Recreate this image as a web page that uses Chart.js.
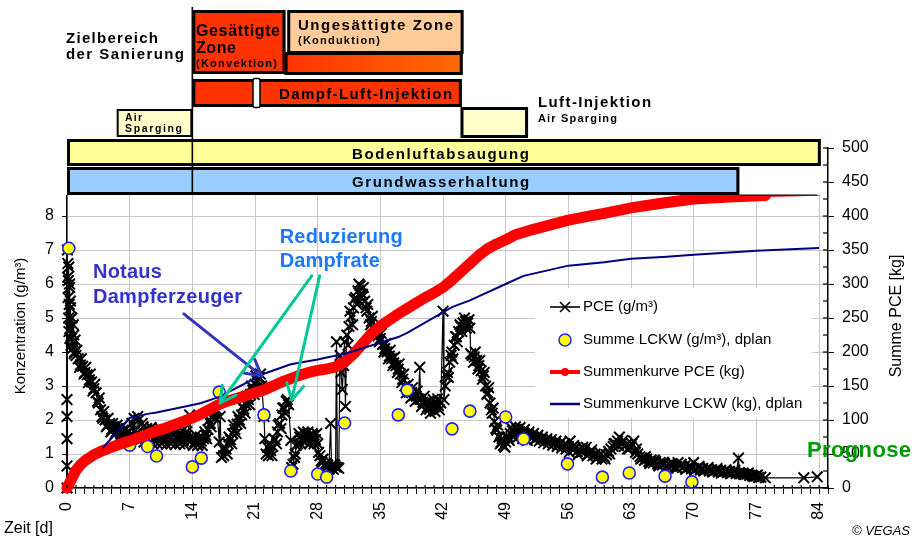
<!DOCTYPE html>
<html><head><meta charset="utf-8">
<script src="https://cdn.jsdelivr.net/npm/chart.js@4.4.0/dist/chart.umd.min.js"></script>
<style>html,body{margin:0;padding:0;background:#fff;}#wrap{width:912px;height:539px;position:relative;}</style>
</head><body><div id="wrap"><canvas id="c" width="912" height="539"></canvas></div>
<script>
// ---- DATA ----
// PCE concentration [day, g/m3]
const pceMeasurements = [
 [0,0],[0,0.65],[0,1.45],[0,2.1],[0,2.6],[0.05,7.0],[0.08,6.2],[0.1,6.6],[0.12,5.6],[0.15,6.1],[0.18,5.0],[0.2,6.5],[0.22,4.6],[0.25,5.4],[0.28,6.0],[0.3,5.9],[0.32,4.4],[0.35,4.7],[0.38,5.5],[0.4,5.3],[0.45,4.2],[0.5,4.4],[0.55,5.0],[0.6,4.1],[0.65,4.3],[0.7,4.8],[0.75,4.5],[0.8,3.95],[0.85,4.0],[0.9,4.35],[1,3.9],
 [1.1,4.05],[1.25,3.8],[1.4,3.55],[1.5,3.62],[1.6,3.8],[1.75,3.58],[1.9,3.35],[2,3.4],[2.1,3.55],[2.25,3.33],[2.4,3.1],[2.5,3.18],[2.6,3.35],[2.75,3.12],[2.9,2.85],[3,2.92],[3.1,3.05],[3.25,2.8],[3.4,2.55],[3.5,2.5],[3.6,2.65],[3.75,2.3],[3.9,2.1],[4,2.05],[4.1,2.25],[4.25,2.0],[4.4,1.8],[4.5,1.85],[4.6,2.05],[4.75,1.9],[4.9,1.65],[5,1.72],[5.1,1.9],[5.25,1.8],[5.4,1.6],[5.5,1.65],[5.6,1.85],[5.75,1.75],[5.9,1.5],[6,1.6],[6.1,1.8],[6.25,1.7],[6.4,1.45],[6.5,1.55],[6.6,1.75],[6.75,1.65],[6.9,1.4],[7,1.5],
 [7.25,1.9],[7.4,1.45],[7.5,2.05],[7.6,1.7],[7.75,1.6],[7.9,2.1],[8,2.0],[8.1,1.4],[8.25,1.5],[8.4,1.9],[8.5,1.8],[8.6,1.35],[8.75,1.45],[8.9,1.75],[9,1.6],[9.1,1.3],[9.25,1.5],[9.4,1.78],[9.5,1.68],[9.6,1.3],[9.75,1.42],[9.9,1.72],[10,1.58],[10.1,1.3],[10.25,1.45],[10.4,1.75],[10.5,1.62],[10.6,1.3],[10.75,1.5],[10.9,1.7],[11,1.43],[11.1,1.28],[11.25,1.58],[11.4,1.72],[11.5,1.5],[11.6,1.3],[11.75,1.4],[11.9,1.7],[12,1.56],[12.1,1.28],[12.25,1.48],[12.4,1.7],[12.5,1.42],[12.6,1.3],[12.75,1.55],[12.9,1.68],[13,1.4],[13.1,1.28],[13.25,1.52],[13.4,1.66],[13.5,1.45],[13.7,2.15],[13.85,1.4],[14,1.45],
 [14.1,1.25],[14.25,1.35],[14.4,1.55],[14.5,1.42],[14.6,1.25],[14.75,1.3],[14.9,1.5],[15,1.38],[15.1,1.25],[15.25,1.45],[15.4,1.65],[15.5,1.55],[15.6,1.45],[15.75,1.72],[15.9,2.0],[16,1.9],[16.1,1.8],[16.25,2.1],[16.4,2.3],[16.5,2.25],[16.6,2.05],[16.75,2.3],[17,1.35],[17.1,2.1],[17.25,0.9],
 [17.4,1.15],[17.5,0.95],[17.6,1.2],[17.75,1.15],[17.9,1.0],[18,1.3],[18.1,1.5],[18.25,1.42],[18.4,1.3],[18.5,1.6],[18.6,1.85],[18.75,1.72],[18.9,1.6],[19,1.88],[19.1,2.1],[19.25,2.0],[19.4,1.9],[19.5,2.15],[19.6,2.4],[19.75,2.32],[19.9,2.2],[20,2.45],[20.1,2.7],[20.25,2.6],[20.4,2.45],[20.5,2.75],[20.6,3.0],[20.75,2.88],[20.9,2.75],[21,3.05],[21.1,3.3],[21.25,3.15],[21.4,3.0],[21.5,3.25],[21.6,3.35],[21.75,3.0],[22,2.1],[22.1,1.45],[22.25,1.0],
 [22.4,1.2],[22.5,0.95],[22.6,1.25],[22.75,1.1],[22.9,0.95],[23,1.22],[23.1,1.45],[23.25,1.42],[23.4,1.3],[23.5,1.65],[23.6,1.85],[23.75,1.9],[23.9,1.75],[24,2.15],[24.1,2.35],[24.25,2.35],[24.4,2.2],[24.5,2.55],[24.6,2.6],[24.75,2.45],[25,1.4],[25.1,0.6],[25.25,0.7],
 [25.4,0.9],[25.5,1.0],[25.6,1.25],[25.75,1.3],[25.9,1.6],[26,1.5],[26.1,1.3],[26.25,1.4],[26.4,1.65],[26.5,1.62],[26.6,1.35],[26.75,1.45],[26.9,1.65],[27,1.52],[27.1,1.3],[27.25,1.35],[27.4,1.6],[27.5,1.55],[27.6,1.3],[27.75,1.42],[27.9,1.6],[28,1.3],[28.1,1.05],[28.25,0.95],[28.4,0.8],[28.5,0.75],[28.6,0.85],[28.75,0.65],[28.9,0.72],[29,0.6],[29.1,0.68],[29.25,0.55],[29.45,1.9],[29.55,0.6],[29.65,0.7],[29.75,0.55],[29.9,0.68],[30,0.62],[30.1,4.3],[30.2,0.6],[30.35,0.58],
 [30.5,3.9],[30.6,3.4],[30.75,2.9],[30.9,3.6],[31,4.3],[31.1,2.4],[31.25,4.5],[31.4,4.2],[31.5,4.75],[31.6,5.2],[31.75,5.05],[31.9,4.8],[32,5.3],[32.1,5.55],[32.25,5.6],[32.4,5.4],[32.5,5.8],[32.6,6.0],[32.75,5.95],[32.9,5.6],[33,5.7],[33.1,5.9],[33.25,5.5],[33.4,5.3],[33.5,5.2],[33.6,5.4],[33.75,5.0],[33.9,4.8],[34,4.9],[34.1,5.05],[34.25,4.72],[34.4,4.5],[34.5,4.6],[34.6,4.75],[34.75,4.48],[34.9,4.3],[35,4.4],[35.1,4.55],[35.25,4.22],[35.4,4.0],[35.5,4.1],[35.6,4.25],[35.75,4.0],[35.9,3.8],[36,3.88],[36.1,4.05],[36.25,3.8],[36.4,3.6],[36.5,3.68],[36.6,3.85],[36.75,3.6],[36.9,3.4],[37,3.5],[37.1,3.65],[37.25,3.35],[37.4,3.1],[37.5,3.2],[37.6,3.35],[37.75,3.0],[37.9,2.8],[38,2.9],[38.1,3.05],[38.25,2.82],[38.4,2.65],[38.5,2.8],[38.6,2.95],[38.75,2.72],[38.9,2.55],[39,2.7],[39.1,2.85],[39.25,2.62],[39.4,3.55],[39.5,2.6],[39.6,2.4],[39.75,2.52],[39.9,2.7],[40,2.5],[40.1,2.3],[40.25,2.38],[40.4,2.55],[40.5,2.32],[40.6,2.2],[40.75,2.45],[40.9,2.6],[41,2.38],[41.1,2.25],[41.25,2.5],[41.4,2.62],[41.5,2.42],[41.6,2.3],[41.75,2.5],[42,5.2],[42.1,2.6],
 [42.25,3.0],[42.4,3.3],[42.5,3.4],[42.6,3.25],[42.75,3.7],[42.9,3.9],[43,4.0],[43.1,3.8],[43.25,4.2],[43.4,4.45],[43.5,4.45],[43.6,4.3],[43.75,4.6],[43.9,4.8],[44,4.75],[44.1,4.6],[44.25,4.85],[44.4,5.0],[44.5,4.9],[44.6,4.7],[44.75,4.85],[44.9,4.95],[45,4.7],[45.1,3.95],[45.25,3.9],[45.4,3.7],[45.5,3.85],[45.6,4.0],[45.75,3.75],[45.9,3.5],[46,3.6],[46.1,3.75],[46.25,3.45],[46.4,3.2],[46.5,3.3],[46.6,3.4],[46.75,3.0],[46.9,2.75],[47,2.8],[47.1,2.95],[47.25,2.5],[47.4,2.3],[47.5,2.2],[47.6,2.35],[47.75,1.95],[47.9,1.75],[48,1.7],[48.1,1.85],[48.25,1.5],[48.4,1.3],[48.5,1.35],[48.6,1.45],[48.75,1.25],[48.9,1.2],[49,1.35],[49.1,1.5],[49.25,1.5],[49.4,1.4],[49.5,1.6],[49.6,1.78],[49.75,1.68],[49.9,1.5],[50,1.6],[50.1,1.8],[50.25,1.72],[50.4,1.5],[50.5,1.65],[50.6,1.78],[50.75,1.6],[50.9,1.45],[51,1.62],[51.1,1.72],[51.25,1.55],[51.4,1.4],[51.5,1.58],[51.6,1.65],[51.75,1.5],
 [52,1.52],[52.1,1.6],[52.25,1.42],[52.5,1.48],[52.6,1.55],[52.75,1.38],[53,1.44],[53.1,1.5],[53.25,1.33],[53.5,1.4],[53.6,1.45],[53.75,1.3],[54,1.36],[54.1,1.42],[54.25,1.26],[54.5,1.33],[54.6,1.38],[54.75,1.22],[55,1.28],[55.1,1.33],[55.25,1.18],[55.5,1.24],[55.6,1.3],[55.75,1.15],[56,1.22],[56.1,1.05],[56.2,1.38],[56.5,1.12],[56.6,1.25],[56.75,1.18],[57,1.08],[57.1,0.98],[57.25,1.15],[57.5,1.05],[57.6,1.2],[57.75,1.12],[58,1.2],[58.1,0.95],[58.25,1.0],[58.5,1.05],[58.6,1.12],[58.75,0.95],[59,1.0],[59.1,0.85],[59.25,0.9],[59.5,0.95],[59.6,1.02],[59.75,0.85],[60,0.92],[60.1,0.85],[60.25,0.98],[60.5,1.08],[60.6,1.0],[60.75,1.15],[61,1.22],[61.1,1.3],[61.25,1.3],[61.5,1.38],[61.6,1.25],[61.7,1.5],[62,1.32],[62.1,1.4],[62.25,1.22],[62.5,1.28],[62.6,1.15],[62.75,1.15],[63,1.22],[63.1,1.3],[63.3,1.38],[63.5,1.05],[63.6,1.15],[63.75,1.0],[64,0.92],[64.1,0.85],[64.25,0.88],[64.5,0.82],[64.6,0.92],[64.75,0.85],[65,0.78],[65.1,0.72],[65.25,0.82],[65.5,0.74],[65.6,0.82],[65.75,0.78],[66,0.7],[66.1,0.65],[66.25,0.75],[66.5,0.68],[66.6,0.76],[66.75,0.72],[67,0.66],[67.1,0.62],[67.25,0.7],[67.5,0.64],[67.6,0.72],[67.75,0.68],[68,0.62],[68.1,0.58],[68.25,0.75],[68.5,0.64],[68.6,0.7],[68.75,0.6],[69,0.65],[69.1,0.55],[69.25,0.58],[69.5,0.62],[69.6,0.66],[69.75,0.56],[70,0.75],[70.1,0.52],[70.25,0.56],[70.5,0.6],[70.6,0.64],[70.75,0.53],[71,0.58],[71.1,0.5],[71.25,0.52],[71.5,0.56],[71.6,0.6],[71.75,0.5],[72,0.54],[72.1,0.47],[72.25,0.49],[72.5,0.53],[72.6,0.57],[72.75,0.47],[73,0.52],[73.1,0.44],[73.25,0.46],[73.5,0.5],[73.6,0.54],[73.75,0.45],[74,0.49],[74.1,0.42],[74.25,0.44],[74.5,0.48],[74.6,0.52],[74.75,0.43],[75,0.88],[75.1,0.45],[75.25,0.42],[75.5,0.44],[75.6,0.4],[75.75,0.4],[76,0.41],[76.1,0.44],[76.25,0.37],[76.5,0.38],[76.6,0.35],[76.75,0.34],[77,0.35],[77.1,0.38],[77.25,0.31],[77.5,0.32],[78,0.3],[82.3,0.3],[83.8,0.33]
];
// Summe LCKW samples (dplan)
const lckwDays = [0.2, 7, 9, 10, 14, 15, 17, 22, 25, 28, 29, 31, 37, 38, 43, 45, 49, 51, 55.9, 59.8, 62.8, 66.8, 69.8];
const lckwConc = [7.05, 1.26, 1.22, 0.94, 0.62, 0.88, 2.82, 2.15, 0.5, 0.41, 0.32, 1.91, 2.15, 2.88, 1.74, 2.26, 2.09, 1.44, 0.71, 0.32, 0.44, 0.35, 0.18];
// Summenkurve PCE [day, kg]
const sumPceKg = [[0,0],[0.5,13],[1,26],[1.5,34],[2,40],[3,49],[4,55],[5,60],[6,65],[7,69],[8,74],[9,79],[10,84],[11,88],[12,93],[13,98],[14,103],[15,109],[16,116],[17,123],[18,128],[19,132],[20,136],[21,140],[22,144],[23,150],[24,156],[25,161],[26,166],[27,170],[28,173],[29,175],[30,178],[31,185],[32,197],[33,212],[34,227],[35,238],[36,247],[37,256],[38,264],[39,272],[40,280],[41,287],[42,295],[43,306],[44,318],[45,330],[46,342],[47,352],[48,359],[49,365],[50,372],[52,380],[54,387],[56,394],[58,399],[60,404],[63,412],[66,418],[70,425],[74,428],[78,430],[84,432]];
// Summenkurve LCKW (dplan) [day, kg] - visible from day 4 on
const sumLckwKg = [[4,59],[7,103],[9,109],[10,111],[14,122],[15,125],[17,134],[22,168],[25,182],[28,189],[29,192],[31,197],[37,222],[38,228],[43,266],[45,276],[49,300],[51,312],[56,327],[60,332],[63,337],[67,340],[70,343],[77,349],[84,353]];
const xTickStep = 7;
const leftTickMax = 8;
const rightTickStep = 50;

// ---- DRAWING ----
const FONT = '"Liberation Sans", Arial, Helvetica, sans-serif';
Chart.defaults.font.family = FONT;
Chart.defaults.color = '#000';

function txt(ctx, text, x, y, size, width, weight, style) {
  ctx.font = `${style||'normal'} ${weight||'bold'} ${size}px ${FONT}`;
  const hasLS = ('letterSpacing' in ctx);
  if (hasLS) ctx.letterSpacing = '0px';
  const w = ctx.measureText(text).width;
  if (width && hasLS) {
    const ls = (width - w) / Math.max(1, text.length - 1);
    ctx.letterSpacing = ls.toFixed(2) + 'px';
    ctx.fillText(text, x, y);
    ctx.letterSpacing = '0px';
  } else if (width) {
    ctx.save(); ctx.translate(x, y); ctx.scale(width / w, 1); ctx.fillText(text, 0, 0); ctx.restore();
  } else ctx.fillText(text, x, y);
}
function box(ctx, x0, y0, x1, y1, fill, lw) {
  ctx.fillStyle = fill; ctx.fillRect(x0, y0, x1 - x0, y1 - y0);
  if (lw) { ctx.lineWidth = lw; ctx.strokeStyle = '#000'; ctx.strokeRect(x0 + lw/2, y0 + lw/2, x1 - x0 - lw, y1 - y0 - lw); }
}
function arrow(ctx, x0, y0, x1, y1, color, lw, head) {
  ctx.save();
  ctx.strokeStyle = color; ctx.lineWidth = lw; ctx.lineCap = 'round'; ctx.lineJoin = 'round';
  ctx.beginPath(); ctx.moveTo(x0, y0); ctx.lineTo(x1, y1); ctx.stroke();
  const a = Math.atan2(y1 - y0, x1 - x0);
  ctx.beginPath();
  ctx.moveTo(x1 - head * Math.cos(a - 0.5), y1 - head * Math.sin(a - 0.5));
  ctx.lineTo(x1, y1);
  ctx.lineTo(x1 - head * Math.cos(a + 0.5), y1 - head * Math.sin(a + 0.5));
  ctx.stroke();
  ctx.restore();
}

const decor = {
  id: 'decor',
  afterDraw(chart) {
    const ctx = chart.ctx;
    const xs = chart.scales.x, ys = chart.scales.y, yr = chart.scales.y1;
    const X = d => xs.getPixelForValue(d);
    const Y = v => ys.getPixelForValue(v);
    ctx.save();
    ctx.textAlign = 'left'; ctx.textBaseline = 'alphabetic';
    ctx.fillStyle = '#fff'; ctx.fillRect(0, 0, 826, 195);

    // --- schedule (Gantt) ---
    box(ctx, X(14), 10, X(24.4), 74, '#FF3300', 3);
    box(ctx, X(24.6), 10, X(44.3), 54, '#FFCC99', 3);
    const g = ctx.createLinearGradient(X(24.3), 0, X(44.2), 0);
    g.addColorStop(0, '#FF3300'); g.addColorStop(1, '#FF6A00');
    box(ctx, X(24.3), 52, X(44.2), 75, g, 3);
    box(ctx, X(14), 79, X(44.1), 107, '#FF3300', 3);
    ctx.fillStyle = '#fff'; ctx.strokeStyle = '#000'; ctx.lineWidth = 1.5;
    ctx.beginPath(); ctx.roundRect ? ctx.roundRect(253, 78.5, 7, 29, 2) : ctx.rect(253, 78.5, 7, 29); ctx.fill(); ctx.stroke();
    box(ctx, X(5.55), 109, X(14), 137, '#FFFFCC', 2);
    box(ctx, X(43.95), 107, X(51.5), 138, '#FFFFCC', 3);
    box(ctx, X(0), 139, X(84.2), 166, '#FFFF99', 3);
    box(ctx, X(0), 167, X(75.1), 195, '#99CCFF', 3);
    ctx.strokeStyle = '#000'; ctx.lineWidth = 1.2;
    ctx.beginPath(); ctx.moveTo(X(75.1), 195); ctx.lineTo(X(83.8), 195); ctx.stroke();
    ctx.lineWidth = 1.6;
    ctx.beginPath(); ctx.moveTo(X(14), 7); ctx.lineTo(X(14), 195); ctx.stroke();

    ctx.fillStyle = '#000';
    txt(ctx, 'Zielbereich', 66, 43, 15, 92);
    txt(ctx, 'der Sanierung', 66, 59, 15, 118);
    txt(ctx, 'Gesättigte', 196, 36, 16, 84);
    txt(ctx, 'Zone', 196, 53, 16, 40);
    txt(ctx, '(Konvektion)', 196, 67, 11, 81);
    txt(ctx, 'Ungesättigte Zone', 298, 30, 15, 155);
    txt(ctx, '(Konduktion)', 298, 44, 11, 82);
    txt(ctx, 'Dampf-Luft-Injektion', 279, 99, 15, 173);
    txt(ctx, 'Air', 125, 121, 10.5, 17);
    txt(ctx, 'Sparging', 125, 132, 10.5, 57);
    txt(ctx, 'Luft-Injektion', 538, 107, 15, 113);
    txt(ctx, 'Air Sparging', 538, 122, 11, 79);
    txt(ctx, 'Bodenluftabsaugung', 352, 159, 15, 177);
    txt(ctx, 'Grundwasserhaltung', 352, 187, 15, 177);

    // --- inner tick marks ---
    ctx.strokeStyle = '#000'; ctx.lineWidth = 1.2;
    for (let v = 0; v <= 500; v += 25) {
      const py = yr.getPixelForValue(v);
      ctx.beginPath(); ctx.moveTo(yr.left - 5, py); ctx.lineTo(yr.left, py); ctx.stroke();
    }
    for (let d = 0; d <= 85; d += 1) {
      const px = X(d);
      ctx.beginPath(); ctx.moveTo(px, xs.top - 3); ctx.lineTo(px, xs.top); ctx.stroke();
    }

    // --- annotations ---
    ctx.fillStyle = '#3333CC';
    txt(ctx, 'Notaus', X(2.9), Y(6.18), 20, 69);
    txt(ctx, 'Dampferzeuger', X(2.9), Y(5.44), 20, 149);
    arrow(ctx, X(13.05), Y(5.12), X(21.75), Y(3.29), '#3333BB', 3, 18);
    ctx.fillStyle = '#1E78FF';
    txt(ctx, 'Reduzierung', X(23.76), Y(7.2), 20, 123);
    txt(ctx, 'Dampfrate', X(23.76), Y(6.5), 20, 100);
    arrow(ctx, X(27.33), Y(6.24), X(17.1), Y(2.5), '#00C896', 3, 18);
    arrow(ctx, X(28.22), Y(6.24), X(25.1), Y(2.59), '#00C896', 3, 18);

    // --- legend ---
    ctx.fillStyle = '#fff'; ctx.fillRect(535, 288, 277, 130);
    const lx0 = 550, lx1 = 580, lxm = 565, tx = 583;
    const rows = [307, 340, 372, 404];
    ctx.strokeStyle = '#000'; ctx.lineWidth = 1.6;
    ctx.beginPath(); ctx.moveTo(lx0, rows[0]); ctx.lineTo(lx1, rows[0]); ctx.stroke();
    ctx.beginPath(); ctx.moveTo(lxm - 5, rows[0] - 5); ctx.lineTo(lxm + 5, rows[0] + 5); ctx.moveTo(lxm - 5, rows[0] + 5); ctx.lineTo(lxm + 5, rows[0] - 5); ctx.stroke();
    ctx.fillStyle = '#FFFF00'; ctx.strokeStyle = '#2020FF'; ctx.lineWidth = 1.5;
    ctx.beginPath(); ctx.arc(lxm, rows[1], 6, 0, Math.PI * 2); ctx.fill(); ctx.stroke();
    ctx.strokeStyle = '#FF0000'; ctx.lineWidth = 4;
    ctx.beginPath(); ctx.moveTo(lx0, rows[2]); ctx.lineTo(lx1, rows[2]); ctx.stroke();
    ctx.fillStyle = '#FF0000'; ctx.beginPath(); ctx.arc(lxm, rows[2], 4, 0, Math.PI * 2); ctx.fill();
    ctx.strokeStyle = '#000080'; ctx.lineWidth = 2.5;
    ctx.beginPath(); ctx.moveTo(lx0, rows[3]); ctx.lineTo(lx1, rows[3]); ctx.stroke();
    ctx.fillStyle = '#000'; ctx.textBaseline = 'middle';
    ctx.font = `15px ${FONT}`;
    ctx.fillText('PCE (g/m³)', tx, rows[0]);
    ctx.fillText('Summe LCKW (g/m³), dplan', tx, rows[1]);
    ctx.fillText('Summenkurve PCE (kg)', tx, rows[2]);
    ctx.fillText('Summenkurve LCKW (kg), dplan', tx, rows[3]);

    // --- axis titles & notes ---
    ctx.textAlign = 'center';
    ctx.save(); ctx.translate(21, 326); ctx.rotate(-Math.PI / 2); ctx.font = `15px ${FONT}`; ctx.fillText('Konzentration (g/m³)', 0, 0); ctx.restore();
    ctx.save(); ctx.translate(897, 316); ctx.rotate(-Math.PI / 2); ctx.font = `16px ${FONT}`; ctx.fillText('Summe PCE [kg]', 0, 0); ctx.restore();
    ctx.textAlign = 'left'; ctx.textBaseline = 'alphabetic';
    ctx.font = `16px ${FONT}`; ctx.fillText('Zeit [d]', 4, 533);
    ctx.font = `italic 13px ${FONT}`; ctx.fillText('© VEGAS', 852, 535);
    ctx.fillStyle = '#009900';
    txt(ctx, 'Prognose', X(82.66), Y(0.91), 22, 104);
    ctx.restore();
  }
};

const toXY = a => a.map(p => ({x: p[0], y: p[1]}));
new Chart(document.getElementById('c'), {
  type: 'line',
  data: {
    datasets: [
      { label: 'Summenkurve LCKW (kg), dplan', data: toXY(sumLckwKg), yAxisID: 'y1', borderColor: '#000080', borderWidth: 2, pointRadius: 0, order: 0, clip: false },
      { label: 'Summenkurve PCE (kg)', data: toXY(sumPceKg), yAxisID: 'y1', borderColor: '#FF0000', borderWidth: 11, pointRadius: 0, order: 1, clip: false, borderJoinStyle: 'round', borderCapStyle: 'round',
        segment: { borderWidth: c => (c.p0.parsed.x >= 78 ? 3 : 11) } },
      { label: 'Summe LCKW (g/m³), dplan', data: lckwDays.map((d, i) => ({x: d, y: lckwConc[i]})), yAxisID: 'y', showLine: false, pointStyle: 'circle', pointRadius: 6, pointBackgroundColor: '#FFFF00', pointBorderColor: '#2020FF', pointBorderWidth: 1.6, order: 2, clip: false },
      { label: 'PCE (g/m³)', data: toXY(pceMeasurements), yAxisID: 'y', borderColor: '#000', borderWidth: 1.2, pointStyle: 'crossRot', pointRadius: 7.5, pointBorderColor: '#000', pointBorderWidth: 2, order: 3, clip: false }
    ]
  },
  options: {
    responsive: false, animation: false, events: [],
    layout: { padding: { top: 148, left: 0, right: 0, bottom: 0 } },
    plugins: { legend: { display: false }, tooltip: { enabled: false } },
    scales: {
      x: { type: 'linear', min: 0, max: 85, afterFit: s => { s.height = 51; },
        ticks: { stepSize: 1, autoSkip: false, maxTicksLimit: 200, minRotation: 90, maxRotation: 90, padding: 8, font: { size: 16 }, color: '#000',
          callback: v => (v % xTickStep === 0 ? String(v) : '') },
        grid: { color: c => (c.tick && c.tick.value % xTickStep === 0) ? '#C8C8C8' : 'rgba(0,0,0,0)', tickColor: '#000', tickLength: 6, lineWidth: 1 },
        border: { color: '#000', width: 1.5 } },
      y: { position: 'left', min: 0, max: 10, afterFit: s => { s.width = 67; },
        ticks: { stepSize: 1, padding: 8, font: { size: 16 }, color: '#000', callback: v => (v <= leftTickMax ? String(v) : '') },
        grid: { color: '#C8C8C8', tickColor: '#000', tickLength: 5 },
        border: { color: '#000', width: 1.5 } },
      y1: { position: 'right', min: 0, max: 500, afterFit: s => { s.width = 84; },
        ticks: { stepSize: 25, maxTicksLimit: 50, padding: 8, font: { size: 16 }, color: '#000', callback: v => (v % rightTickStep === 0 ? String(v) : '') },
        grid: { drawOnChartArea: false, tickColor: '#000', tickLength: 6 },
        border: { color: '#000', width: 1.5 } }
    }
  },
  plugins: [decor]
});
</script></body></html>
